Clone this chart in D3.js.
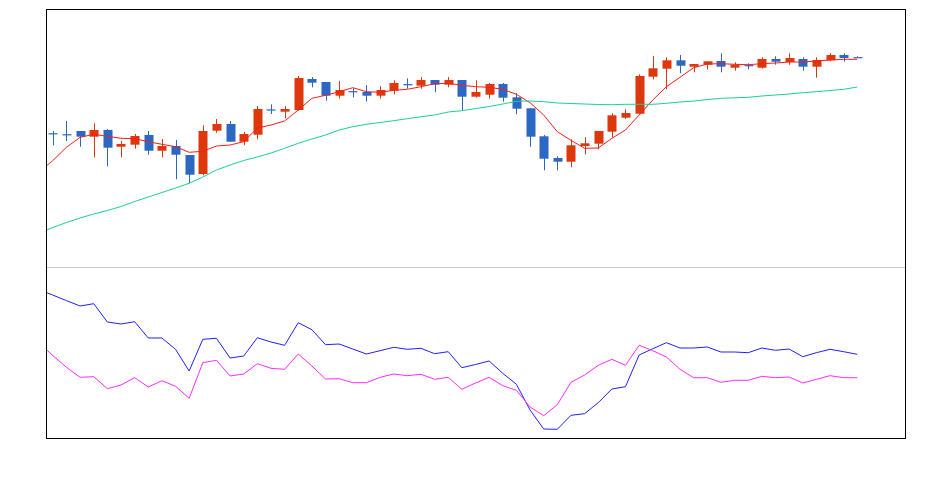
<!DOCTYPE html>
<html>
<head>
<meta charset="utf-8">
<script src="https://cdn.jsdelivr.net/npm/d3@7"></script>
<style>
  html, body { margin: 0; padding: 0; background: #fff; }
  svg { display: block; }
</style>
</head>
<body>
<svg id="chart" width="939" height="480"></svg>
<script>
// candles: 60 visible days
const opens = [16.68, 16.58, 16.90, 16.33, 17.00, 15.33, 15.53, 16.50, 14.93, 15.40,
  14.50, 12.60, 16.93, 17.60, 15.83, 16.53, 19.06, 18.83, 19.00, 22.10,
  21.80, 20.43, 20.89, 20.80, 20.43, 20.93, 21.59, 21.43, 22.00, 21.53,
  22.00, 20.33, 20.53, 21.60, 20.27, 19.17, 16.37, 14.20, 13.83, 15.40,
  15.63, 16.83, 18.23, 18.63, 22.33, 23.13, 23.97, 23.33, 23.53, 23.90,
  23.23, 23.49, 23.23, 24.10, 23.80, 24.10, 23.33, 23.97, 24.50, 24.29]
const closes = [16.64, 16.54, 16.33, 17.00, 15.23, 15.60, 16.40, 14.93, 15.40, 14.53,
  12.53, 16.90, 17.60, 15.83, 16.60, 19.10, 19.02, 19.10, 22.20, 21.73,
  20.43, 21.00, 20.85, 20.43, 21.00, 21.70, 21.55, 22.00, 21.53, 22.00,
  20.33, 20.80, 21.60, 20.23, 19.13, 16.33, 14.13, 13.83, 15.47, 15.67,
  16.90, 18.47, 18.70, 22.40, 23.17, 23.97, 23.43, 23.60, 23.87, 23.33,
  23.53, 23.45, 24.10, 23.83, 24.20, 23.33, 24.00, 24.50, 24.20, 24.25]
const highs = [16.90, 17.90, 16.90, 17.67, 17.10, 15.90, 16.60, 16.90, 16.10, 16.00,
  14.50, 17.47, 18.10, 17.90, 16.80, 19.40, 19.57, 19.40, 22.40, 22.30,
  21.80, 21.90, 21.17, 21.50, 21.37, 21.97, 22.17, 22.30, 22.00, 22.30,
  22.00, 21.97, 21.70, 21.70, 20.67, 19.17, 16.50, 14.37, 16.07, 16.27,
  16.90, 18.67, 19.07, 22.57, 24.40, 24.27, 24.50, 23.60, 23.87, 24.67,
  23.77, 23.67, 24.27, 24.37, 24.67, 24.27, 24.27, 24.67, 24.67, 24.37]
const lows = [15.47, 15.90, 15.33, 14.27, 13.37, 14.27, 15.13, 14.53, 14.27, 12.07,
  11.67, 12.47, 16.73, 15.83, 15.47, 16.07, 18.60, 18.17, 18.93, 21.27,
  19.93, 20.13, 20.27, 19.83, 20.13, 20.57, 21.13, 21.13, 20.77, 21.27,
  18.93, 20.23, 20.13, 19.83, 18.57, 15.33, 12.97, 12.97, 13.27, 14.57,
  15.07, 16.27, 18.10, 18.63, 22.07, 21.07, 22.67, 22.77, 23.05, 22.77,
  22.93, 23.07, 23.13, 23.53, 23.53, 22.93, 22.23, 23.87, 23.83, 24.25]

// averages and indicator lines start one day before the visible window
const maShort = [12.80, 13.95, 15.27, 16.27, 16.57, 16.37, 16.17, 16.13, 15.83, 15.57, 15.33,
  14.77, 14.87, 15.40, 15.50, 15.83, 17.20, 17.50, 17.90, 19.00, 20.17,
  20.47, 20.83, 21.23, 20.83, 20.77, 20.97, 21.07, 21.33, 21.63, 21.67,
  21.47, 21.33, 21.27, 21.07, 20.57, 19.73, 18.50, 16.83, 15.97, 15.17,
  15.20, 16.17, 17.00, 18.50, 20.00, 21.33, 22.27, 23.23, 23.60, 23.63,
  23.57, 23.53, 23.63, 23.70, 23.80, 23.80, 23.90, 24.00, 24.07, 24.07]
const maLong = [6.70, 7.25, 7.75, 8.20, 8.60, 8.95, 9.35, 9.85, 10.30, 10.75, 11.20,
  11.67, 12.30, 13.00, 13.50, 13.95, 14.30, 14.70, 15.17, 15.67, 16.10,
  16.50, 17.00, 17.33, 17.57, 17.75, 17.93, 18.13, 18.33, 18.50, 18.80,
  18.93, 19.13, 19.35, 19.60, 19.87, 19.90, 19.83, 19.70, 19.65, 19.60,
  19.55, 19.53, 19.57, 19.57, 19.57, 19.67, 19.80, 19.90, 20.04, 20.17,
  20.22, 20.27, 20.40, 20.50, 20.60, 20.73, 20.83, 20.95, 21.07, 21.30]
const indA = [15.03, 14.49, 13.94, 13.40, 13.63, 11.80, 11.60, 11.83, 10.20, 10.20, 9.07,
  6.90, 10.07, 10.17, 8.20, 8.40, 10.23, 9.80, 9.47, 11.73, 11.03,
  9.53, 9.60, 9.10, 8.60, 8.93, 9.27, 9.07, 9.17, 8.63, 8.83,
  7.23, 7.55, 7.90, 6.67, 5.57, 3.00, 1.10, 1.07, 2.47, 2.63,
  3.73, 5.10, 5.33, 8.50, 9.13, 9.73, 9.20, 9.20, 9.30, 8.80,
  8.80, 8.73, 9.20, 8.97, 9.10, 8.33, 8.73, 9.07, 8.83, 8.57]
const indB = [9.70, 8.45, 7.27, 6.27, 6.33, 5.13, 5.50, 6.23, 5.30, 5.93, 5.37,
  4.17, 7.73, 7.97, 6.40, 6.60, 7.63, 7.17, 7.07, 8.60, 7.40,
  6.10, 6.13, 5.73, 5.73, 6.27, 6.60, 6.43, 6.57, 6.07, 6.27,
  5.07, 5.70, 6.27, 5.43, 4.97, 3.30, 2.43, 3.53, 5.77, 6.50,
  7.47, 8.07, 7.47, 9.47, 8.93, 8.30, 7.07, 6.23, 6.23, 5.77,
  5.97, 5.97, 6.37, 6.23, 6.30, 5.70, 6.07, 6.43, 6.23, 6.23]

const upColor = '#dc380c'
const downColor = '#2a68c4'

const plot = { left: 46, right: 905, top: 9, mid: 267, bottom: 438 }
const slots = 63

const svg = d3.select('#chart')

const x = d3.scaleLinear()
  .domain([-0.5, slots - 0.5])
  .range([plot.left, plot.right])
const step = x(1) - x(0)
const bodyW = step * 0.66

const yPrice = d3.scaleLinear().domain([3.3, 29.1]).range([plot.mid, plot.top])
const yInd = d3.scaleLinear().domain([0.2, 17.3]).range([plot.bottom, plot.mid])

const defs = svg.append('defs')
defs.append('clipPath').attr('id', 'clipTop')
  .append('rect')
  .attr('x', plot.left).attr('y', plot.top)
  .attr('width', plot.right - plot.left).attr('height', plot.mid - plot.top)
defs.append('clipPath').attr('id', 'clipBottom')
  .append('rect')
  .attr('x', plot.left).attr('y', plot.mid)
  .attr('width', plot.right - plot.left).attr('height', plot.bottom - plot.mid)

const candles = opens.map((o, i) => ({ i, o, c: closes[i], h: highs[i], l: lows[i] }))

const topPanel = svg.append('g').attr('clip-path', 'url(#clipTop)')

const candle = topPanel.selectAll('g.candle')
  .data(candles)
  .enter()
  .append('g')
  .attr('class', 'candle')
  .attr('fill', d => d.c >= d.o ? upColor : downColor)
  .attr('stroke', d => d.c >= d.o ? upColor : downColor)

candle.append('line')
  .attr('x1', d => Math.round(x(d.i)) + 0.5)
  .attr('x2', d => Math.round(x(d.i)) + 0.5)
  .attr('y1', d => yPrice(d.h))
  .attr('y2', d => yPrice(d.l))
  .attr('stroke-width', 1)

candle.append('rect')
  .attr('stroke', 'none')
  .attr('x', d => Math.round(x(d.i) - bodyW / 2) + 0.5)
  .attr('width', Math.round(bodyW))
  .attr('y', d => yPrice(Math.max(d.o, d.c)))
  .attr('height', d => Math.max(1.2, Math.abs(yPrice(d.o) - yPrice(d.c))))

function drawLine (g, values, yScale, color) {
  const line = d3.line()
    .x((d, k) => x(k - 1))
    .y(d => yScale(d))
  g.append('path')
    .datum(values)
    .attr('fill', 'none')
    .attr('stroke', color)
    .attr('stroke-width', 1)
    .attr('stroke-linejoin', 'round')
    .attr('d', line)
}

drawLine(topPanel, maShort, yPrice, '#ff1a1a')
drawLine(topPanel, maLong, yPrice, '#1ccf9a')

const bottomPanel = svg.append('g').attr('clip-path', 'url(#clipBottom)')
drawLine(bottomPanel, indA, yInd, '#2020ff')
drawLine(bottomPanel, indB, yInd, '#ff2cff')

// panel divider and frame
svg.append('line')
  .attr('x1', plot.left).attr('x2', plot.right)
  .attr('y1', plot.mid + 0.5).attr('y2', plot.mid + 0.5)
  .attr('stroke', '#c8c8c8')
  .attr('stroke-width', 1)

svg.append('rect')
  .attr('x', plot.left + 0.5).attr('y', plot.top + 0.5)
  .attr('width', plot.right - plot.left).attr('height', plot.bottom - plot.top)
  .attr('fill', 'none')
  .attr('stroke', '#000')
  .attr('stroke-width', 1)
</script>
</body>
</html>
